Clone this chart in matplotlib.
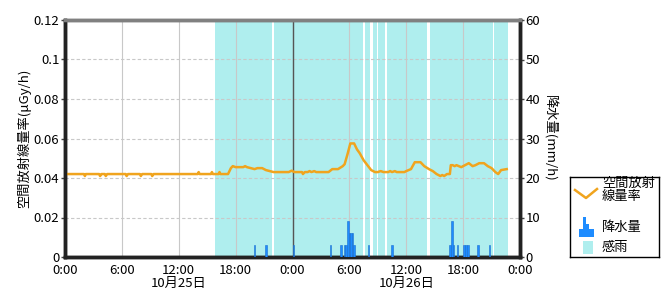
import matplotlib
matplotlib.use("Agg")
import matplotlib.pyplot as plt
from matplotlib.patches import Rectangle, Polygon

plt.rcParams['font.family'] = ['Noto Sans CJK JP', 'DejaVu Sans']

# air dose rate (hours from 10/25 0:00, uGy/h)
dose_hours = [0.0, 2.0, 2.1, 2.2, 3.6, 3.7, 3.85, 4.2, 4.3, 4.45, 6.4, 6.5, 6.65,
              7.9, 8.0, 8.15, 9.1, 9.2, 9.35, 14.0, 14.1, 14.2, 15.4, 15.5, 15.6,
              16.2, 16.3, 16.4, 17.2, 17.5, 17.7, 18.0, 18.8, 19.0, 19.2, 19.6,
              20.0, 20.3, 20.8, 21.2, 21.6, 22.0, 23.6, 23.9, 24.2, 25.0, 25.1,
              25.3, 25.6, 25.8, 26.0, 26.3, 26.5, 27.8, 28.2, 28.8, 29.3, 29.5,
              29.8, 30.1, 30.5, 30.8, 31.1, 31.5, 31.9, 32.3, 32.7, 33.0, 33.3,
              33.6, 34.1, 34.3, 34.5, 34.8, 35.0, 35.8, 36.0, 36.5, 36.9, 37.5,
              37.9, 38.4, 38.8, 39.2, 39.6, 39.8, 40.0, 40.3, 40.6, 40.7, 40.9,
              41.1, 41.3, 41.8, 42.2, 42.6, 43.0, 43.3, 43.7, 44.2, 44.6, 45.0,
              45.4, 45.7, 46.0, 46.6]
dose_vals = [0.042, 0.042, 0.041, 0.042, 0.042, 0.041, 0.042, 0.042, 0.041, 0.042,
             0.042, 0.041, 0.042, 0.042, 0.041, 0.042, 0.042, 0.041, 0.042, 0.042,
             0.043, 0.042, 0.042, 0.043, 0.042, 0.042, 0.043, 0.042, 0.042, 0.045,
             0.046, 0.0455, 0.0455, 0.046, 0.0455, 0.045, 0.0445, 0.045, 0.045,
             0.044, 0.0435, 0.043, 0.043, 0.0437, 0.043, 0.043, 0.042, 0.043,
             0.043, 0.0435, 0.043, 0.0435, 0.043, 0.043, 0.0445, 0.0445, 0.046,
             0.047, 0.052, 0.0575, 0.0575, 0.0545, 0.0525, 0.049, 0.0465, 0.044,
             0.043, 0.043, 0.0435, 0.043, 0.043, 0.0435, 0.043, 0.0435, 0.043,
             0.043, 0.0435, 0.0445, 0.048, 0.048, 0.046, 0.0445, 0.0435, 0.042,
             0.041, 0.0415, 0.041, 0.042, 0.042, 0.0465, 0.0465, 0.046, 0.0465,
             0.0455, 0.0465, 0.0475, 0.046, 0.0465, 0.0475, 0.0475, 0.046, 0.045,
             0.043, 0.042, 0.044, 0.0445]

# precipitation (mm/h)
rain_hours = [20.0, 21.2, 24.1, 28.0, 29.1, 29.5, 29.67, 29.83, 30.0, 30.17, 30.33,
              30.5, 32.0, 34.5, 40.6, 40.8, 41.0, 41.4, 42.1, 42.3, 42.5, 43.6, 44.8]
rain_vals = [3, 3, 3, 3, 3, 3, 3, 9, 6, 6, 6, 3, 3, 3, 3, 9, 3, 3, 3, 3, 3, 3, 3]

# rain sensor on (start, end)
sense_start = [15.83, 22.1, 31.65, 32.45, 33.05, 33.95, 36.1, 38.5, 45.25]
sense_end = [21.85, 31.45, 32.2, 32.9, 33.75, 36.0, 38.15, 45.1, 46.7]

tick_hours = [0, 6, 12, 18, 24, 30, 36, 42, 48]
tick_labels = ['0:00', '6:00', '12:00\n10月25日', '18:00', '0:00', '6:00',
               '12:00\n10月26日', '18:00', '0:00']

orange = '#f0a41e'
blue = '#1e8cff'
cyan = '#afeeee'

fig = plt.figure(figsize=(6.7, 3.0), dpi=100)
ax = fig.add_axes([65/670, 43/300, 455/670, 237/300])

for s, e in zip(sense_start, sense_end):
    ax.axvspan(s, e, color=cyan, lw=0, zorder=0.2)

ax.grid(axis='y', color='#c8c8c8', ls=(0, (3, 2)), lw=0.8, zorder=1.5)
ax.grid(axis='x', color='#c8c8c8', ls='-', lw=0.8, zorder=1.5)
ax.axvline(24, color='#555555', lw=1, zorder=1.6)
ax.plot(dose_hours, dose_vals, color=orange, lw=1.8, zorder=3)

ax.set_xlim(0, 48)
ax.set_ylim(0, 0.12)
ax.set_yticks([0, 0.02, 0.04, 0.06, 0.08, 0.1, 0.12])
ax.set_yticklabels(['0', '0.02', '0.04', '0.06', '0.08', '0.1', '0.12'])
ax.set_xticks(tick_hours)
ax.set_xticklabels(tick_labels, linespacing=0.95)
ax.tick_params(axis='x', length=0, pad=5, labelsize=9.5)
ax.tick_params(axis='y', length=3, width=1, pad=1, labelsize=9.5, color='#444444')
ax.set_ylabel('空間放射線量率(μGy/h)', fontsize=9.5, labelpad=2)

ax2 = ax.twinx()
ax2.bar(rain_hours, rain_vals, width=0.17, color=blue, edgecolor='#1a6fd0',
        lw=0.4, zorder=3)
ax2.set_ylim(0, 60)
ax2.set_yticks([0, 10, 20, 30, 40, 50, 60])
ax2.tick_params(axis='y', length=3, width=1, pad=1, labelsize=9.5, color='#444444')
ax2.set_ylabel('降水量(mm/h)', fontsize=9.5, rotation=-90, labelpad=12)

for a in (ax, ax2):
    a.spines['top'].set_color('#808080')
    a.spines['top'].set_linewidth(2.5)
    for side in ('left', 'right', 'bottom'):
        a.spines[side].set_color('#222222')
        a.spines[side].set_linewidth(2.5)

# legend box
lg = fig.add_axes([570/670, 43/300, 89/670, 80/300])
lg.set_xlim(0, 89)
lg.set_ylim(80, 0)
lg.set_xticks([])
lg.set_yticks([])
for sp in lg.spines.values():
    sp.set_linewidth(1)
    sp.set_color('black')
lg.plot([5, 16, 27], [13, 21, 12], color=orange, lw=1.8)
lg.add_patch(Polygon([(9, 60), (9, 52), (13, 52), (13, 40), (16, 40), (16, 47),
                      (19, 47), (19, 52), (24, 52), (24, 60)], closed=True,
                     color=blue, lw=0))
lg.add_patch(Rectangle((13, 64), 10, 13, color=cyan, lw=0))
lg.text(32, 13, '空間放射\n線量率', fontsize=9.5, va='center', ha='left',
        linespacing=0.95)
lg.text(32, 50, '降水量', fontsize=9.5, va='center', ha='left')
lg.text(32, 71, '感雨', fontsize=9.5, va='center', ha='left')

fig.savefig('out.png', dpi=100)
